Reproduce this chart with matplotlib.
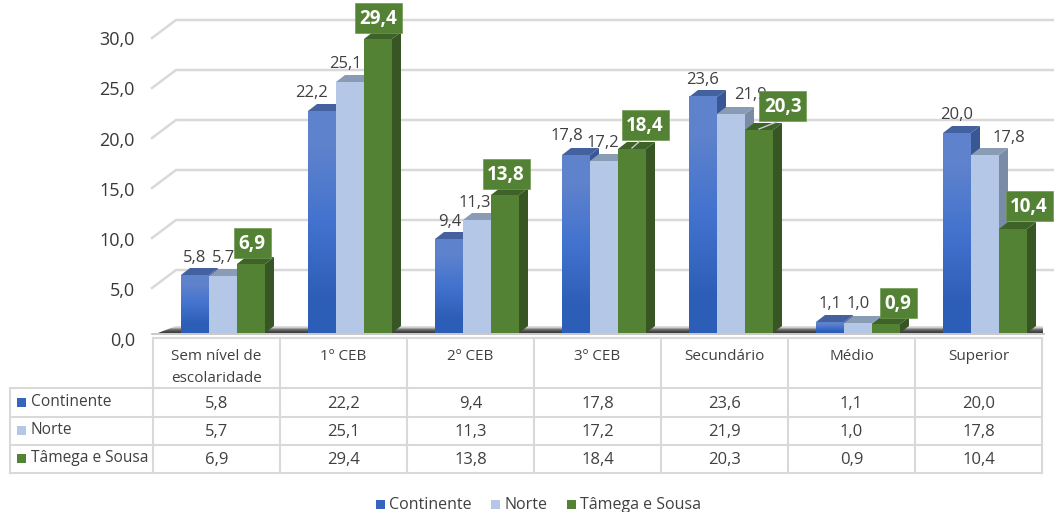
import numpy as np
import matplotlib.pyplot as plt
from matplotlib.patches import Polygon, Rectangle

plt.rcParams['font.family'] = ['Open Sans', 'DejaVu Sans']

categories = ['Sem nível de\nescolaridade', '1º CEB', '2º CEB', '3º CEB', 'Secundário', 'Médio', 'Superior']
series_names = ['Continente', 'Norte', 'Tâmega e Sousa']
continente = [5.8, 22.2, 9.4, 17.8, 23.6, 1.1, 20.0]
norte = [5.7, 25.1, 11.3, 17.2, 21.9, 1.0, 17.8]
tamega = [6.9, 29.4, 13.8, 18.4, 20.3, 0.9, 10.4]
y_ticks = [0, 5, 10, 15, 20, 25, 30]

# label shift from the top of each bar, in px
label_shift = [
    [(0, 19), (-11, 20), (1, 19), (-9, 21), (0, 19), (0, 20), (0, 20)],
    [(1, 20), (-5, 20), (-2, 19), (-1, 20), (19, 21), (0, 21), (24, 19)],
    [(1, 21), (0, 21), (1, 21), (13, 24), (24, 24), (12, 21), (16, 23)],
]
# categories whose green label has a leader line
leader_cats = [3, 4]

W, H = 1054, 512
GREY = '#404040'
LINE = '#d9d9d9'
front_col = ['#3f6fc9', '#b4c7e7', '#548235']
top_col = ['#44619f', '#8a9bb5', '#3f6228']
side_col = ['#3a5795', '#7a8ba6', '#375623']
legend_col = ['#3565bd', '#b4c7e7', '#548235']
grad_blue = np.array([[0.37, 0.51, 0.80], [0.26, 0.45, 0.81], [0.18, 0.37, 0.72]])

PX = 127.0          # one category, px
BAR = 28 / PX
DX = 9 / PX         # depth of the bars
DY = 0.7
SHIFT = 5.5 / PX    # bars sit a bit right of the table cell centre


def fmt(v):
    return ('%.1f' % v).replace('.', ',')


fig = plt.figure(figsize=(W / 100, H / 100), dpi=100)
# overlay in pixel coords for the table and legend
tb = fig.add_axes([0, 0, 1, 1])
tb.set_xlim(0, W)
tb.set_ylim(H, 0)
tb.axis('off')
ax = fig.add_axes([154 / W, (H - 333) / H, 889 / W, 333 / H])
ax.axis('off')
ax.patch.set_alpha(0)

x_left = -0.5 - 2 / PX
x_back = -0.5 + 22 / PX
x_right = -0.5 + 900 / PX
for v in y_ticks:
    if v > 0:
        ax.plot([x_left, x_back, x_right], [v - 0.5, v + 1.3, v + 1.3], color=LINE, lw=1.8,
                clip_on=False, zorder=1)
    ax.text(x_left - 17 / PX, v - 0.75, fmt(v), ha='right', va='center', fontsize=13,
            color='#383838', clip_on=False)

# floor with its dark shadow
floor = Polygon([(x_left + 6 / PX, 0), (x_back, DY), (x_right, DY), (x_right - 10 / PX, 0)],
                closed=True, transform=ax.transData, fc='none', ec='none')
ax.add_patch(floor)
shade = np.array([[0.86], [0.45], [0.25]])
im = ax.imshow(shade, extent=[x_left, x_right, 0, DY], aspect='auto', cmap='gray', vmin=0, vmax=1,
               zorder=1.5, interpolation='bilinear')
im.set_clip_path(floor)
ax.plot([x_left, x_right - 10 / PX], [-0.1, -0.1], color='#bfbfbf', lw=1.2, clip_on=False, zorder=1.6)

values = [continente, norte, tamega]
for s, vals in enumerate(values):
    pos = np.arange(len(vals)) + SHIFT + (s - 1) * BAR
    bars = ax.bar(pos, vals, BAR, color=front_col[s], zorder=3 + s, clip_on=False)
    for i, (rect, v) in enumerate(zip(bars, vals)):
        x0 = rect.get_x()
        x1 = x0 + BAR
        ax.add_patch(Polygon([(x1, 0), (x1 + DX, DY), (x1 + DX, v + DY), (x1, v)], fc=side_col[s],
                             ec='none', zorder=3 + s, clip_on=False))
        ax.add_patch(Polygon([(x0, v), (x0 + DX, v + DY), (x1 + DX, v + DY), (x1, v)], fc=top_col[s],
                             ec='none', zorder=3 + s, clip_on=False))
        if s == 0:
            grad = ax.imshow(grad_blue[:, None, :], extent=[x0, x1, 0, v], aspect='auto',
                             zorder=3.1, interpolation='bilinear')
            grad.set_clip_on(False)
        dx, dy = label_shift[s][i]
        lx = pos[i] + dx / PX
        ly = v + dy / 10
        if s == 2:
            if i in leader_cats:
                ax.plot([pos[i], lx - 4 / PX], [v + 0.1, v + 0.9], color='#c9c9c9', lw=1,
                        zorder=8, clip_on=False)
            box_w = (47 if v >= 10 else 37) / PX
            ax.add_patch(Rectangle((lx - box_w / 2, ly - 1.5), box_w, 3.0, fc='#548235', ec='#6f9a52',
                                   lw=0.5, zorder=8.5, clip_on=False))
            ax.text(lx, ly - 0.1, fmt(v), ha='center', va='center', fontsize=13.5, fontweight='bold',
                    color='white', zorder=9, clip_on=False)
        else:
            ax.text(lx, ly - 0.2, fmt(v), ha='center', va='center', fontsize=12, color=GREY,
                    zorder=7, clip_on=False)
ax.set_xlim(-0.5, 6.5)
ax.set_ylim(0, 33.3)

# data table below the chart
rows_y = [338, 388, 417, 445, 473]
cols_x = [153 + PX * i for i in range(8)]
for y in rows_y[1:]:
    tb.plot([10, cols_x[-1]], [y, y], color=LINE, lw=1.5)
tb.plot([cols_x[0], cols_x[-1]], [rows_y[0], rows_y[0]], color=LINE, lw=1.5)
tb.plot([10, 10], [rows_y[1], rows_y[-1]], color=LINE, lw=1.5)
for x in cols_x:
    tb.plot([x, x], [rows_y[0], rows_y[-1]], color=LINE, lw=1.5)
for i, c in enumerate(categories):
    cx = cols_x[i] + PX / 2
    if '\n' in c:
        a, b = c.split('\n')
        tb.text(cx, 356, a, ha='center', va='center', fontsize=11, color=GREY)
        tb.text(cx, 378, b, ha='center', va='center', fontsize=11, color=GREY)
    else:
        tb.text(cx, 356, c, ha='center', va='center', fontsize=11, color=GREY)
for s, vals in enumerate(values):
    cy = (rows_y[s + 1] + rows_y[s + 2]) / 2
    tb.add_patch(Rectangle((17, cy - 5), 9, 9, fc=legend_col[s], ec='none'))
    tb.text(31, cy - 1, series_names[s], ha='left', va='center', fontsize=11.2, color=GREY)
    for i, v in enumerate(vals):
        tb.text(cols_x[i] + PX / 2, cy + 1, fmt(v), ha='center', va='center', fontsize=12, color=GREY)

# legend at the bottom
for name, col, x in zip(series_names, legend_col, [376, 491, 567]):
    tb.add_patch(Rectangle((x, 500), 9, 9, fc=col, ec='none'))
    tb.text(x + 13, 505, name, ha='left', va='center', fontsize=11.5, color=GREY)

fig.savefig('out.png', dpi=100)
